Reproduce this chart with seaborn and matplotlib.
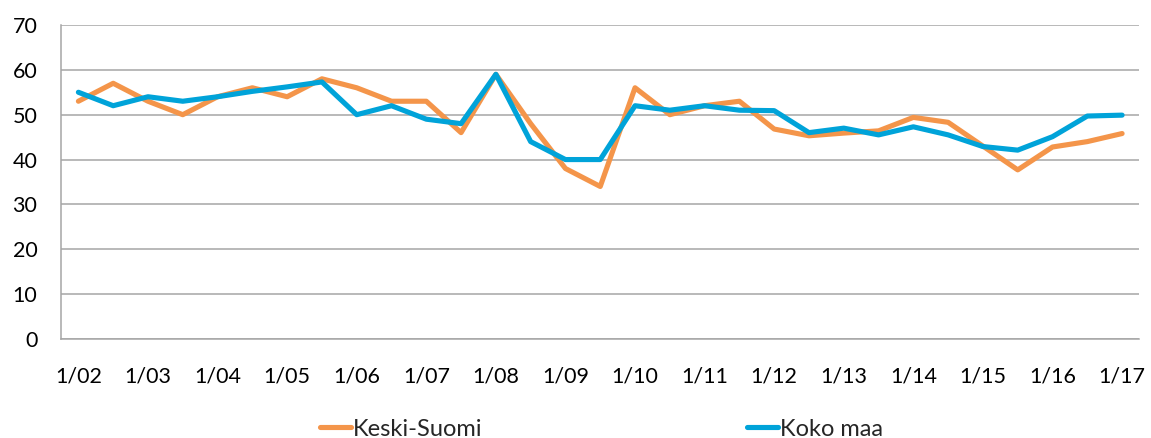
import pandas as pd
import matplotlib.pyplot as plt
import seaborn as sns

# half-year periods 1/02 ... 1/17
periods = ["1/02", "7/02", "1/03", "7/03", "1/04", "7/04", "1/05", "7/05",
           "1/06", "7/06", "1/07", "7/07", "1/08", "7/08", "1/09", "7/09",
           "1/10", "7/10", "1/11", "7/11", "1/12", "7/12", "1/13", "7/13",
           "1/14", "7/14", "1/15", "7/15", "1/16", "7/16", "1/17"]

keski_suomi = [53, 57, 53, 50, 54, 56, 54, 58, 56, 53, 53, 46, 59, 48, 38, 34,
               56, 50, 52, 53, 46.8, 45.3, 45.9, 46.4, 49.4, 48.3, 43, 37.7,
               42.8, 44, 45.8]
koko_maa = [55, 52, 54, 53, 54, 55.2, 56.2, 57.3, 50, 52, 49, 48, 59, 44, 40, 40,
            52, 51, 52, 51, 50.9, 46, 47, 45.5, 47.3, 45.5, 42.9, 42.1,
            45.1, 49.7, 49.9]

tick_labels = periods[::2]

df = pd.DataFrame({
    "idx": list(range(len(periods))) * 2,
    "value": keski_suomi + koko_maa,
    "series": ["Keski-Suomi"] * len(periods) + ["Koko maa"] * len(periods),
})

sns.set_style("white")
plt.rcParams['font.family'] = ['Lato', 'DejaVu Sans']

fig = plt.figure(figsize=(11.51, 4.38), dpi=100)
ax = fig.add_axes([0.053, 0.226, 0.937, 0.717])

palette = {"Keski-Suomi": "#F4954A", "Koko maa": "#00A3D9"}
sns.lineplot(data=df, x="idx", y="value", hue="series", palette=palette,
             linewidth=3.7, ax=ax, legend=False, solid_capstyle="round")

ax.set_xlim(-0.5, 30.5)
ax.set_ylim(0, 70)
ax.set_yticks(range(0, 71, 10))
ax.set_xticks(range(0, len(periods), 2))
ax.set_xticklabels(tick_labels)
ax.set_xlabel("")
ax.set_ylabel("")
ax.grid(axis="y", color="#A6A6A6", linewidth=1.1)
ax.set_axisbelow(True)
ax.tick_params(axis="both", length=0, labelsize=15.5, colors="black")
ax.tick_params(axis="x", pad=20)
ax.tick_params(axis="y", pad=17)
for s in ["top", "right"]:
    ax.spines[s].set_visible(False)
for s in ["left", "bottom"]:
    ax.spines[s].set_color("#A6A6A6")
    ax.spines[s].set_linewidth(1.1)

handles = [plt.Line2D([], [], color=palette[k], linewidth=3.7, solid_capstyle="round")
           for k in palette]
fig.legend(handles, list(palette.keys()), loc="center", bbox_to_anchor=(0.5225, 0.02),
           ncol=2, frameon=False, fontsize=17, handlelength=1.3,
           handletextpad=0.1, columnspacing=11.2)

plt.savefig("out.png", dpi=100)
